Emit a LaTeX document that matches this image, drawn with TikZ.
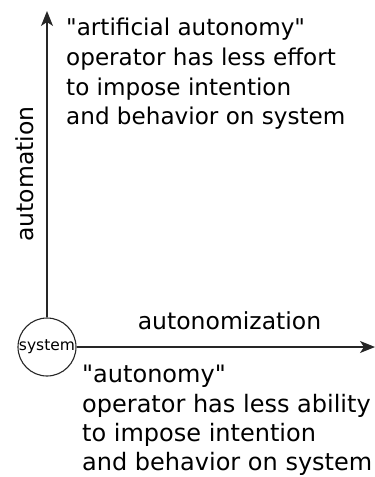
\documentclass[tikz,border=0pt]{standalone}
\usepackage{fontspec}
\setmainfont{DejaVu Sans}[Ligatures=TeXOff]
\usetikzlibrary{arrows.meta}
\tikzset{
  axis/.style={line width=1.2pt, draw=black!85, -{Stealth[length=15pt,width=12pt,inset=4pt]}},
  bigtext/.style={font=\fontsize{23.5}{29.7}\selectfont, inner sep=0pt, align=left},
  sysnode/.style={circle, draw=black!85, line width=1.1pt, minimum size=58pt, inner sep=0pt, font=\fontsize{15.5}{17}\selectfont}
}
\begin{document}
\begin{tikzpicture}[x=1pt,y=-1pt]
\useasboundingbox (0,0) rectangle (375,477);
\node[sysnode] (sys) at (47,347) {system};
\coordinate (top) at (47,11);
\coordinate (right) at (375,347);
\draw[axis] (sys.north) -- (top);
\draw[axis] (sys.east) -- (right);
\node[bigtext, rotate=90, anchor=center] (auto) at (25,174) {automation};
\node[bigtext, anchor=base] (autz) at (229.5,329) {autonomization};
\node[bigtext, font=\fontsize{23.1}{29.7}\selectfont, anchor=north west] (toptext) at (66,18) {"artificial autonomy"\\operator has less effort\\to impose intention\\and behavior on system};
\node[bigtext, font=\fontsize{24}{29.4}\selectfont, anchor=north west] (bottext) at (82,365) {"autonomy"\\operator has less ability\\to impose intention\\and behavior on system};
\end{tikzpicture}
\end{document}
